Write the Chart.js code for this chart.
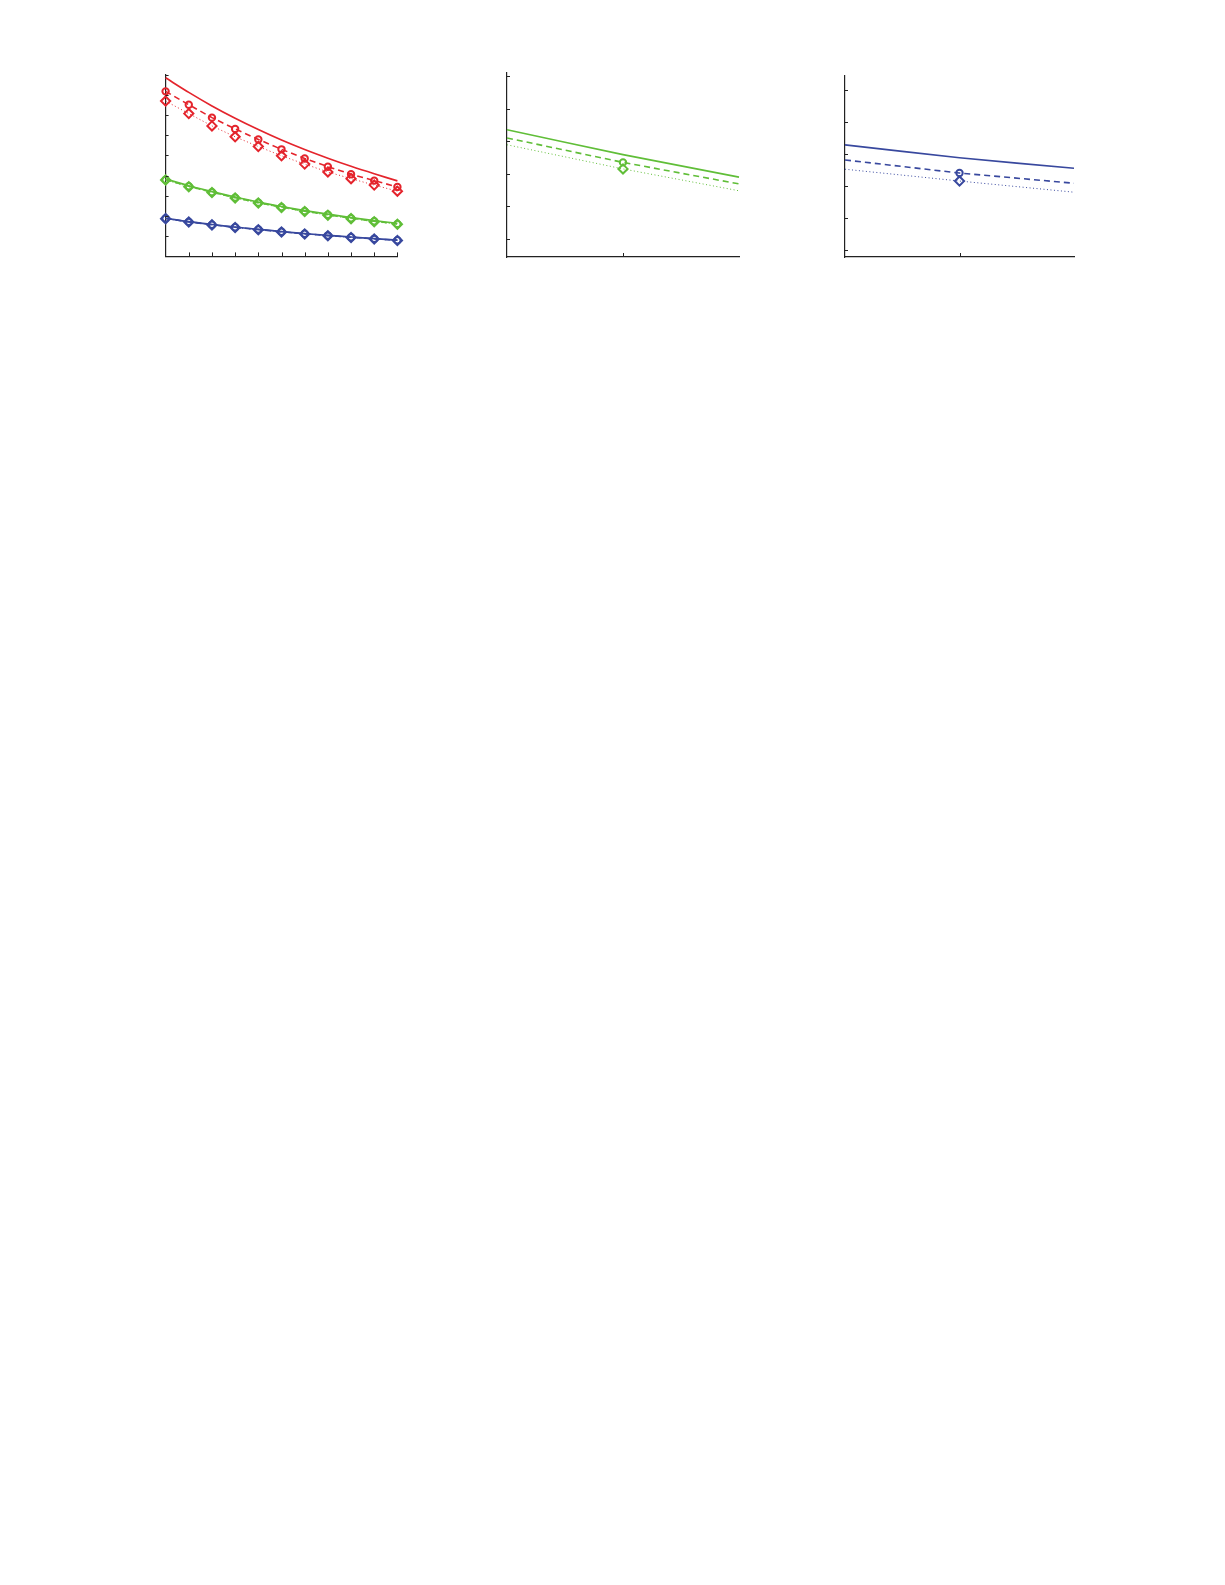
<!DOCTYPE html>
<html>
<head>
<meta charset="utf-8">
<script src="https://cdn.jsdelivr.net/npm/chart.js@4"></script>
<style>
  html, body { margin: 0; padding: 0; background: #fff; }
  #page { position: relative; width: 1225px; height: 1585px; background: #fff; overflow: hidden; }
  canvas { position: absolute; }
</style>
</head>
<body>
<div id="page">
  <canvas id="chart1"></canvas>
  <canvas id="chart2"></canvas>
  <canvas id="chart3"></canvas>
</div>
<script>
// panel 1: eleven steps
const steps1 = [0, 1, 2, 3, 4, 5, 6, 7, 8, 9, 10];
const redSolid = [8.84, 8.12, 7.45, 6.84, 6.28, 5.76, 5.29, 4.86, 4.46, 4.09, 3.74];
const redDashed = [8.17, 7.51, 6.87, 6.31, 5.79, 5.30, 4.85, 4.44, 4.07, 3.75, 3.44];
const redDotted = [7.69, 7.07, 6.46, 5.92, 5.44, 4.98, 4.57, 4.18, 3.85, 3.53, 3.23];
const greenSolid = [3.83, 3.50, 3.21, 2.94, 2.69, 2.47, 2.27, 2.09, 1.92, 1.77, 1.64];
const greenDashed = [3.80, 3.47, 3.18, 2.91, 2.66, 2.44, 2.24, 2.06, 1.89, 1.74, 1.61];
const greenDotted = [3.78, 3.45, 3.16, 2.89, 2.64, 2.42, 2.22, 2.04, 1.87, 1.72, 1.59];
const blueSolid = [1.89, 1.72, 1.58, 1.45, 1.34, 1.23, 1.13, 1.04, 0.96, 0.88, 0.81];
const blueDashed = [1.88, 1.71, 1.57, 1.44, 1.33, 1.22, 1.12, 1.03, 0.95, 0.87, 0.80];
const blueDotted = [1.87, 1.70, 1.56, 1.43, 1.32, 1.21, 1.11, 1.02, 0.94, 0.86, 0.79];
const xTicks1 = [1, 2, 3, 4, 5, 6, 7, 8, 9, 10];
const yTicks1 = [1, 2, 3, 4, 5, 6, 7, 8, 9];

// panel 2: green only, three points
const steps2 = [0, 1, 2];
const green2Solid = [3.35, 2.59, 1.90];
const green2Dashed = [3.10, 2.35, 1.69];
const green2Dotted = [2.89, 2.15, 1.48];
const xTicks2 = [1];
const yTicks2 = [0, 1, 2, 3, 4, 5];

// panel 3: blue only, three points
const steps3 = [0, 1, 2];
const blue3Solid = [3.28, 2.88, 2.55];
const blue3Dashed = [2.81, 2.40, 2.08];
const blue3Dotted = [2.52, 2.15, 1.80];
const xTicks3 = [1];
const yTicks3 = [0, 1, 2, 3, 4, 5];

const RED = 'rgb(228, 36, 44)';
const GREEN = 'rgb(96, 190, 56)';
const BLUE = 'rgb(56, 72, 158)';
const PAD = 6;

// MATLAB style ticks pointing into the plot
const inwardTicks = {
  id: 'inwardTicks',
  afterDraw(chart) {
    const ctx = chart.ctx;
    const area = chart.chartArea;
    const sx = chart.scales.x, sy = chart.scales.y;
    ctx.save();
    ctx.strokeStyle = '#222';
    ctx.lineWidth = 1;
    ctx.beginPath();
    sx.ticks.forEach(t => {
      const px = Math.round(sx.getPixelForValue(t.value)) + 0.5;
      ctx.moveTo(px, area.bottom);
      ctx.lineTo(px, area.bottom - 4);
    });
    sy.ticks.forEach(t => {
      const py = Math.round(sy.getPixelForValue(t.value)) + 0.5;
      ctx.moveTo(area.left, py);
      ctx.lineTo(area.left + 3, py);
    });
    ctx.stroke();
    ctx.restore();
  }
};

function line(xs, ys, color, style, marker, markAt) {
  const dash = style === 'dashed' ? [6, 4] : style === 'dotted' ? [1, 2.5] : [];
  let radius = 0;
  if (marker) {
    radius = marker === 'circle' ? 3.2 : 4.6;
    if (markAt) radius = xs.map((x, i) => markAt.includes(i) ? radius : 0);
  }
  return {
    data: xs.map((x, i) => ({ x: x, y: ys[i] })),
    borderColor: color,
    borderWidth: style === 'dotted' ? 1 : style === 'solid' ? 1.7 : 1.6,
    borderDash: dash,
    pointStyle: marker || 'circle',
    pointRadius: radius,
    pointBorderColor: color,
    pointBackgroundColor: 'rgba(255,255,255,0)',
    pointBorderWidth: 2,
    tension: style === 'solid' ? 0.3 : 0,
    fill: false,
    clip: false
  };
}

function makeChart(id, box, datasets, xr, yr, xTicks, yTicks) {
  const cv = document.getElementById(id);
  cv.width = box.right - box.left + 2 * PAD;
  cv.height = box.bottom - box.top + 2 * PAD;
  cv.style.left = (box.left - PAD) + 'px';
  cv.style.top = (box.top - PAD) + 'px';
  cv.style.width = cv.width + 'px';
  cv.style.height = cv.height + 'px';
  return new Chart(cv.getContext('2d'), {
    type: 'line',
    data: { datasets: datasets },
    options: {
      responsive: false,
      animation: false,
      devicePixelRatio: 1,
      layout: { padding: PAD },
      plugins: { legend: { display: false }, tooltip: { enabled: false } },
      scales: {
        x: {
          type: 'linear', min: xr[0], max: xr[1],
          grid: { display: false },
          border: { display: true, color: '#222', width: 1.2 },
          ticks: { display: false },
          afterBuildTicks: axis => { axis.ticks = xTicks.map(v => ({ value: v })); },
          afterFit: axis => { axis.height = 0; }
        },
        y: {
          type: 'linear', min: yr[0], max: yr[1],
          grid: { display: false },
          border: { display: true, color: '#222', width: 1.2 },
          ticks: { display: false },
          afterBuildTicks: axis => { axis.ticks = yTicks.map(v => ({ value: v })); },
          afterFit: axis => { axis.width = 0; }
        }
      }
    },
    plugins: [inwardTicks]
  });
}

makeChart('chart1', { left: 165, right: 398, top: 74, bottom: 257 }, [
  line(steps1, redSolid, RED, 'solid'),
  line(steps1, redDashed, RED, 'dashed', 'circle'),
  line(steps1, redDotted, RED, 'dotted', 'rectRot'),
  line(steps1, greenSolid, GREEN, 'solid'),
  line(steps1, greenDashed, GREEN, 'dashed', 'circle'),
  line(steps1, greenDotted, GREEN, 'dotted', 'rectRot'),
  line(steps1, blueSolid, BLUE, 'solid'),
  line(steps1, blueDashed, BLUE, 'dashed', 'circle'),
  line(steps1, blueDotted, BLUE, 'dotted', 'rectRot')
], [0, 10], [0, 9], xTicks1, yTicks1);

makeChart('chart2', { left: 507, right: 739, top: 73, bottom: 257 }, [
  line(steps2, green2Solid, GREEN, 'solid'),
  line(steps2, green2Dashed, GREEN, 'dashed', 'circle', [1]),
  line(steps2, green2Dotted, GREEN, 'dotted', 'rectRot', [1])
], [0, 2], [-0.55, 5.09], xTicks2, yTicks2);

makeChart('chart3', { left: 845, right: 1074, top: 76, bottom: 257 }, [
  line(steps3, blue3Solid, BLUE, 'solid'),
  line(steps3, blue3Dashed, BLUE, 'dashed', 'circle', [1]),
  line(steps3, blue3Dotted, BLUE, 'dotted', 'rectRot', [1])
], [0, 2], [-0.23, 5.44], xTicks3, yTicks3);
</script>
</body>
</html>
